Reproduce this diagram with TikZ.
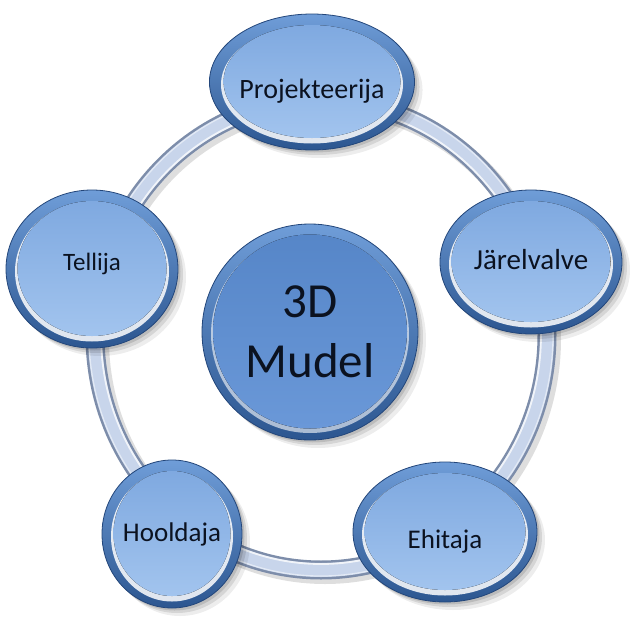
\documentclass[tikz,border=0pt]{standalone}
\usepackage{fontspec}
\setmainfont{Carlito}
\usetikzlibrary{shapes.geometric}
\definecolor{rimA}{HTML}{6F9DD8}
\definecolor{rimB}{HTML}{2C5690}
\definecolor{rimline}{HTML}{23467A}
\definecolor{faceA}{HTML}{7FA9E0}
\definecolor{faceB}{HTML}{A2C4EE}
\definecolor{ctrA}{HTML}{5686C8}
\definecolor{ctrB}{HTML}{6A98D8}
\definecolor{ringdark}{HTML}{7D8DAA}
\definecolor{ringlight}{HTML}{C8D5EB}
\definecolor{txt}{HTML}{0B1220}
\newcommand{\shiftdown}[2]{\raisebox{-#1}[\height][\depth]{#2}}
\tikzset{
  softshadow/.style={
    preaction={fill=black,opacity=0.07,transform canvas={shift={(8,8)}}},
    preaction={fill=black,opacity=0.10,transform canvas={shift={(5,5)}}},
    preaction={fill=black,opacity=0.12,transform canvas={shift={(2.5,2.5)}}}},
  sat/.style n args={3}{ellipse, inner sep=0pt, softshadow,
    minimum width=2*#1, minimum height=2*#2,
    draw=rimline, line width=0.8pt, top color=rimA, bottom color=rimB,
    text=txt, font=\fontsize{#3}{#3}\selectfont,
    path picture={
      \fill[white,opacity=0.85] ([yshift=-2.5pt]path picture bounding box.center)
        ellipse [x radius=#1-9, y radius=#2-9];
      \fill[top color=faceA, bottom color=faceB] ([yshift=0.5pt]path picture bounding box.center)
        ellipse [x radius=#1-11.5, y radius=#2-11.5];
    }},
  ctr/.style={circle, inner sep=0pt, softshadow, minimum size=216pt,
    draw=rimline, line width=0.8pt, top color=rimA, bottom color=rimB,
    text=txt, align=center, font=\fontsize{49}{60}\selectfont,
    path picture={
      \fill[white,opacity=0.6] ([yshift=-2pt]path picture bounding box.center) circle [radius=99];
      \fill[top color=ctrA, bottom color=ctrB] ([yshift=0.5pt]path picture bounding box.center)
        circle [radius=97];
    }},
}
\begin{document}
\begin{tikzpicture}[x=1pt,y=-1pt]
\useasboundingbox (0,0) rectangle (630,619);
% ring
\coordinate (rc) at (321,335);
\draw[black,opacity=0.13,line width=20pt] ([shift={(4,4)}]rc) ellipse [x radius=226, y radius=235];
\draw[ringdark,line width=19pt] (rc) ellipse [x radius=226, y radius=235];
\draw[ringlight,line width=14pt] (rc) ellipse [x radius=226, y radius=235];
\draw[white,opacity=0.75,line width=1.8pt] (rc) ellipse [x radius=220, y radius=229];
\draw[white,opacity=0.5,line width=1.2pt] (rc) ellipse [x radius=232, y radius=241];
% nodes
\node[ctr] (m) at (310,332) {3D\\Mudel};
\node[sat={100}{68}{28}] (p) at (312,82) {\shiftdown{9pt}{Projekteerija}};
\node[sat={91}{72}{29}] (j) at (531,262) {\shiftdown{-2pt}{Järelvalve}};
\node[sat={92}{70}{27}] (e) at (445,532) {\shiftdown{9pt}{Ehitaja}};
\node[sat={70}{74}{27}] (h) at (172,534) {Hooldaja};
\node[sat={86}{79}{25}] (t) at (92,269) {\shiftdown{-5pt}{Tellija}};
\end{tikzpicture}
\end{document}
